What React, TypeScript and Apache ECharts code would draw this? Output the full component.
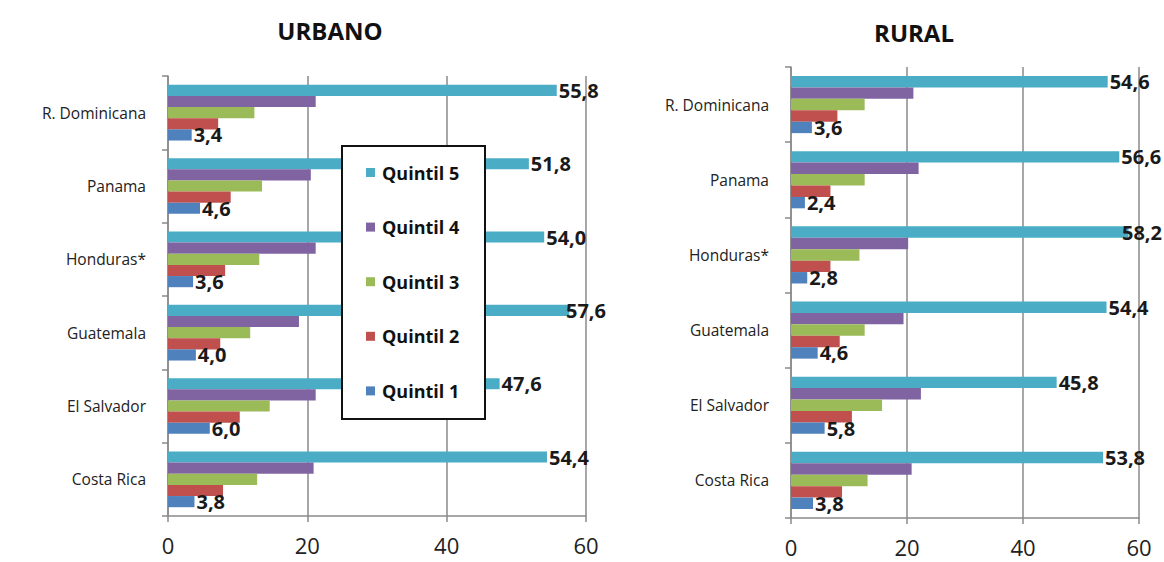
import React, { useEffect, useRef } from "react";
import * as echarts from "echarts";

const categories = ["Costa Rica", "El Salvador", "Guatemala", "Honduras*", "Panama", "R. Dominicana"];
const seriesNames = ["Quintil 1", "Quintil 2", "Quintil 3", "Quintil 4", "Quintil 5"];
const legendOrder = ["Quintil 5", "Quintil 4", "Quintil 3", "Quintil 2", "Quintil 1"];
const urbanQ1 = [3.8, 6.0, 4.0, 3.6, 4.6, 3.4];
const urbanQ2 = [7.9, 10.3, 7.5, 8.2, 9.0, 7.2];
const urbanQ3 = [12.8, 14.6, 11.8, 13.1, 13.5, 12.4];
const urbanQ4 = [20.9, 21.2, 18.8, 21.2, 20.5, 21.2];
const urbanQ5 = [54.4, 47.6, 57.6, 54.0, 51.8, 55.8];
const ruralQ1 = [3.8, 5.8, 4.6, 2.8, 2.4, 3.6];
const ruralQ2 = [8.8, 10.5, 8.4, 6.8, 6.8, 8.0];
const ruralQ3 = [13.2, 15.7, 12.7, 11.8, 12.7, 12.7];
const ruralQ4 = [20.8, 22.4, 19.4, 20.2, 22.0, 21.1];
const ruralQ5 = [53.8, 45.8, 54.4, 58.2, 56.6, 54.6];
const xMin = 0;
const xMax = 60;
const xInterval = 20;
const titles = ["URBANO", "RURAL"];
const colors = ["#4F81BD", "#C0504D", "#9BBB59", "#8064A2", "#4BACC6"];

const FONT = "'Open Sans', Lato, sans-serif";
const labelRightLimits = [606, 1162];

export default function App() {
  const ref = useRef<HTMLDivElement>(null);
  useEffect(() => {
    if (!ref.current) return;
    const chart = echarts.init(ref.current, undefined, { renderer: "svg" });
    const groups = [
      [urbanQ1, urbanQ2, urbanQ3, urbanQ4, urbanQ5],
      [ruralQ1, ruralQ2, ruralQ3, ruralQ4, ruralQ5],
    ];
    const series: any[] = [];
    groups.forEach((g, gi) => {
      for (let si = 4; si >= 0; si--) {
        const data = g[si];
        const limit = labelRightLimits[gi];
        series.push({
          type: "bar",
          name: seriesNames[si],
          xAxisIndex: gi,
          yAxisIndex: gi,
          data,
          barGap: "0%",
          barCategoryGap: "24%",
          itemStyle: { color: colors[si] },
          z: 2,
          label: {
            show: si === 0 || si === 4,
            position: "right",
            distance: 2,
            fontFamily: FONT,
            fontWeight: "bold",
            fontSize: 20,
            color: "#1a1a1a",
            formatter: (p: any) => Number(p.value).toFixed(1).replace(".", ","),
          },
          labelLayout: (p: any) => {
            const r = p.labelRect;
            if (r && r.x + r.width > limit) {
              return { x: limit - r.width, y: r.y, align: "left", verticalAlign: "top" };
            }
            return {};
          },
        });
      }
    });
    const xAxisBase = (gi: number) => ({
      type: "value",
      gridIndex: gi,
      min: xMin,
      max: xMax,
      interval: xInterval,
      axisLine: { show: true, lineStyle: { color: "#8a8a8a", width: 1.5 } },
      axisTick: { show: true, length: 6, lineStyle: { color: "#8a8a8a", width: 1.5 } },
      splitLine: { show: true, lineStyle: { color: "#8a8a8a", width: 1.5 } },
      axisLabel: { fontFamily: FONT, fontSize: 22, color: "#222", margin: 18 },
    });
    const yAxisBase = (gi: number) => ({
      type: "category",
      gridIndex: gi,
      data: categories,
      axisLine: { show: true, lineStyle: { color: "#8a8a8a", width: 1.5 } },
      axisTick: { show: true, length: 6, lineStyle: { color: "#8a8a8a", width: 1.5 } },
      axisLabel: { fontFamily: FONT, fontSize: 15.5, color: "#222", margin: 22 },
    });
    chart.setOption({
      animation: false,
      backgroundColor: "#ffffff",
      grid: [
        { left: 168, right: 578, top: 76, bottom: 46 },
        { left: 791, right: 25, top: 67, bottom: 44 },
      ],
      xAxis: [xAxisBase(0), xAxisBase(1)],
      yAxis: [yAxisBase(0), yAxisBase(1)],
      legend: {
        orient: "vertical",
        left: 366,
        top: 163,
        padding: 0,
        itemGap: 35.6,
        itemWidth: 9,
        itemHeight: 9,
        icon: "rect",
        data: legendOrder,
        z: 10,
        textStyle: {
          fontFamily: FONT,
          fontWeight: "bold",
          fontSize: 18,
          lineHeight: 19,
          color: "#111",
          padding: [0, 0, 0, 2],
        },
      },
      graphic: [
        {
          type: "rect",
          z: 5,
          shape: { x: 342, y: 146, width: 143, height: 273 },
          style: { fill: "#ffffff", stroke: "#111", lineWidth: 2 },
        },
        {
          type: "text",
          x: 330,
          y: 30,
          style: {
            text: titles[0],
            fontFamily: FONT,
            fontWeight: "bold",
            fontSize: 24,
            fill: "#111",
            textAlign: "center",
            textVerticalAlign: "middle",
          },
        },
        {
          type: "text",
          x: 914,
          y: 32,
          style: {
            text: titles[1],
            fontFamily: FONT,
            fontWeight: "bold",
            fontSize: 24,
            fill: "#111",
            textAlign: "center",
            textVerticalAlign: "middle",
          },
        },
      ],
      series,
    });
    return () => chart.dispose();
  }, []);
  return (
    <div
      ref={ref}
      style={{ position: "absolute", left: 0, top: 0, width: 1164, height: 562 }}
    />
  );
}
